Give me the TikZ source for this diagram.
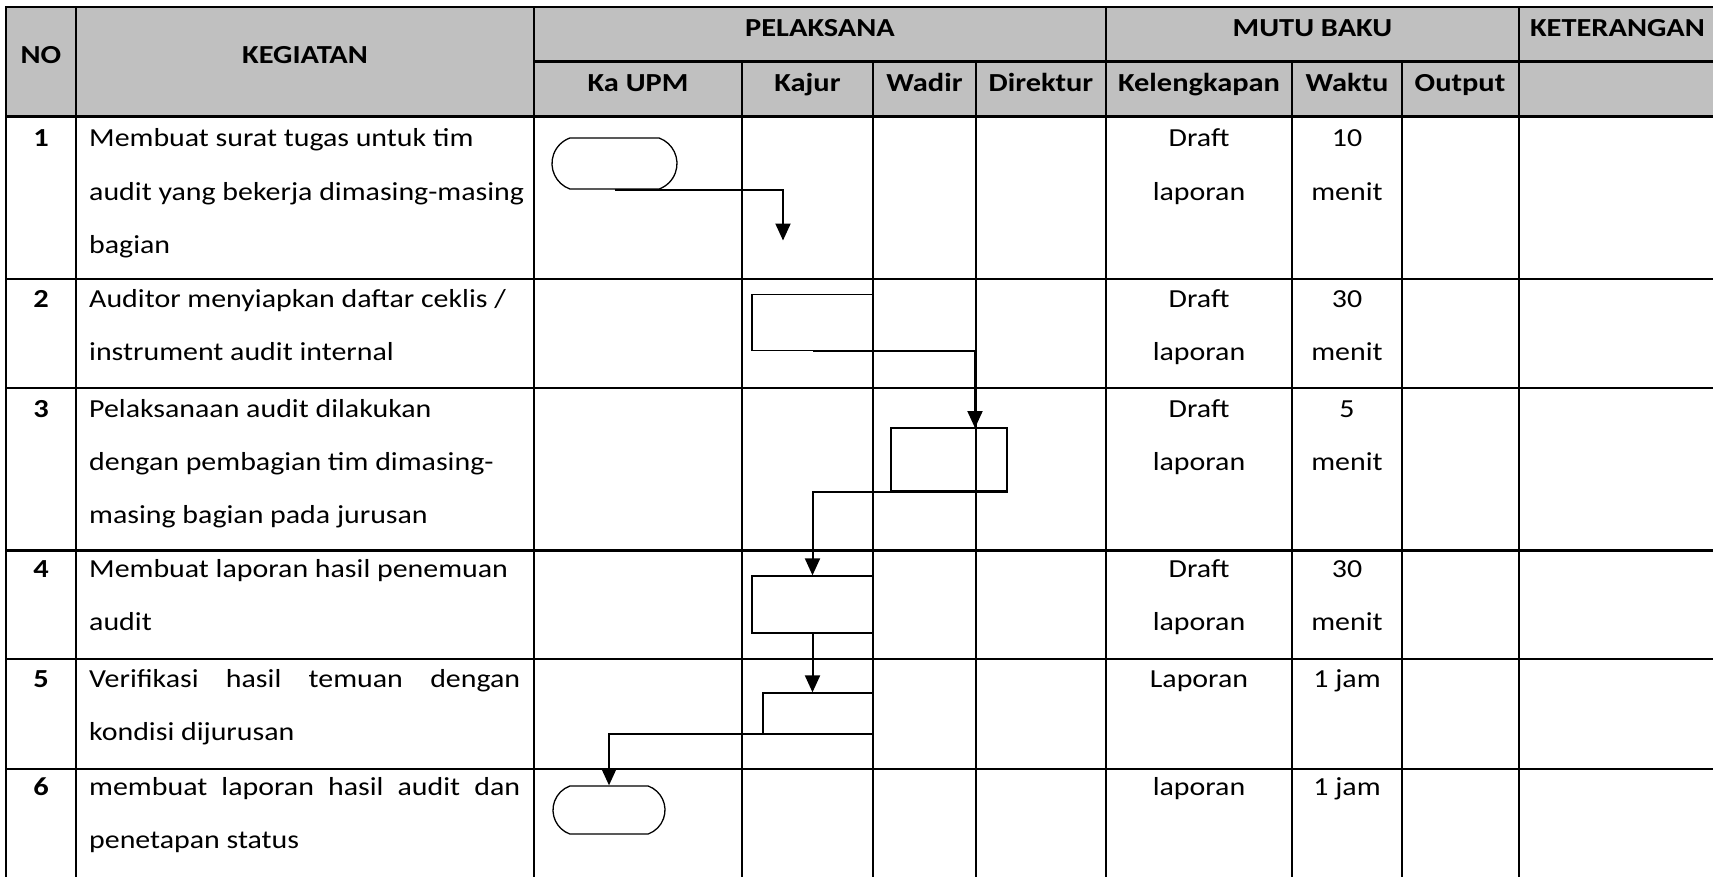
\documentclass[tikz,border=0pt]{standalone}
\usepackage{fontspec}
\setmainfont{Carlito}[FakeStretch=1.15, BoldFeatures={FakeStretch=1.17}]
\usetikzlibrary{arrows.meta,shapes.misc}
\definecolor{hdrgray}{RGB}{192,192,192}
\begin{document}
\begin{tikzpicture}[x=1pt,y=-1pt,
  font=\fontsize{26}{30}\selectfont,
  tline/.style={line width=2.3pt, line cap=rect},
  txt/.style={anchor=base west, inner sep=0pt},
  ctr/.style={anchor=base, inner sep=0pt},
  hd/.style={anchor=base, inner sep=0pt, font=\fontsize{26}{30}\selectfont\bfseries},
  proc/.style={draw, line width=1.3pt, rectangle, inner sep=0pt},
  term/.style={draw, line width=1.3pt, rounded rectangle, rounded rectangle arc length=140, inner sep=0pt},
  conn/.style={line width=2pt, -{Triangle[length=17pt,width=15pt]}}]
\useasboundingbox (0,0) rectangle (1713,876);
\clip (0,0) rectangle (1713,876);
% header fill
\fill[hdrgray] (6,7) rectangle (1716,116.5);
% horizontal lines
\foreach \y in {7,116.5,279,388,550.5,659,769,879} \draw[tline] (6,\y) -- (1716,\y);
\draw[tline] (534,61.5) -- (1716,61.5);
% vertical lines
\foreach \x in {6,76,534,1106,1519,1716} \draw[tline] (\x,7) -- (\x,879);
\foreach \x in {742,873,976,1292,1402} \draw[tline] (\x,61.5) -- (\x,879);
% header texts
\node[hd] (hNO) at (41,63) {NO};
\node[hd] (hKEG) at (305,63) {KEGIATAN};
\node[hd] (hPEL) at (820,36) {PELAKSANA};
\node[hd] (hMUTU) at (1312.5,36) {MUTU BAKU};
\node[hd] (hKET) at (1617.5,36) {KETERANGAN};
\node[hd] (hKa) at (638,91) {Ka UPM};
\node[hd] (hKaj) at (807.5,91) {Kajur};
\node[hd] (hWad) at (924.5,91) {Wadir};
\node[hd] (hDir) at (1041,91) {Direktur};
\node[hd] (hKel) at (1199,91) {Kelengkapan};
\node[hd] (hWak) at (1347,91) {Waktu};
\node[hd] (hOut) at (1460,91) {Output};
% numbers
\node[hd] (n1) at (41,146.5) {1};
\node[hd] (n2) at (41,307) {2};
\node[hd] (n3) at (41,417) {3};
\node[hd] (n4) at (41,577) {4};
\node[hd] (n5) at (41,687) {5};
\node[hd] (n6) at (41,795) {6};
% kegiatan texts
\node[txt] (k1a) at (89,146.5) {Membuat surat tugas untuk tim};
\node[txt] (k1b) at (89,200) {audit yang bekerja dimasing-masing};
\node[txt] (k1c) at (89,253.5) {bagian};
\node[txt] (k2a) at (89,307) {Auditor menyiapkan daftar ceklis /};
\node[txt] (k2b) at (89,360) {instrument audit internal};
\node[txt] (k3a) at (89,417) {Pelaksanaan audit dilakukan};
\node[txt] (k3b) at (89,470) {dengan pembagian tim dimasing-};
\node[txt] (k3c) at (89,523) {masing bagian pada jurusan};
\node[txt] (k4a) at (89,577) {Membuat laporan hasil penemuan};
\node[txt] (k4b) at (89,630) {audit};
\node[txt] (k5a) at (89,687) {\makebox[431pt][s]{Verifikasi hasil temuan dengan}};
\node[txt] (k5b) at (89,740.5) {kondisi dijurusan};
\node[txt] (k6a) at (89,795) {\makebox[431pt][s]{membuat laporan hasil audit dan}};
\node[txt] (k6b) at (89,848) {penetapan status};
% mutu baku
\node[ctr] (m1a) at (1199,146.5) {Draft};
\node[ctr] (m1b) at (1199,200) {laporan};
\node[ctr] (w1a) at (1347,146.5) {10};
\node[ctr] (w1b) at (1347,200) {menit};
\node[ctr] (m2a) at (1199,307) {Draft};
\node[ctr] (m2b) at (1199,360) {laporan};
\node[ctr] (w2a) at (1347,307) {30};
\node[ctr] (w2b) at (1347,360) {menit};
\node[ctr] (m3a) at (1199,417) {Draft};
\node[ctr] (m3b) at (1199,470) {laporan};
\node[ctr] (w3a) at (1347,417) {5};
\node[ctr] (w3b) at (1347,470) {menit};
\node[ctr] (m4a) at (1199,577) {Draft};
\node[ctr] (m4b) at (1199,630) {laporan};
\node[ctr] (w4a) at (1347,577) {30};
\node[ctr] (w4b) at (1347,630) {menit};
\node[ctr] (m5a) at (1199,687) {Laporan};
\node[ctr] (w5a) at (1347,687) {1 jam};
\node[ctr] (m6a) at (1199,795) {laporan};
\node[ctr] (w6a) at (1347,795) {1 jam};
% flow shapes
\node[term, minimum width=125pt, minimum height=51pt] (T1) at (614.5,163.5) {};
\node[proc, minimum width=121.5pt, minimum height=56pt] (R2) at (812.75,322.5) {};
\node[proc, minimum width=116pt, minimum height=63pt] (R3) at (949,459.5) {};
\node[proc, minimum width=121pt, minimum height=57pt] (R4) at (812.5,604.5) {};
\node[proc, minimum width=110pt, minimum height=41pt] (R5) at (818,713.5) {};
\node[term, minimum width=112pt, minimum height=48pt] (T6) at (609,810) {};
% connector end points
\coordinate (e1) at (783,240.5);
\coordinate (e2) at (975,428);
\coordinate (s5) at (786,734);
% connectors
\draw[conn] (T1.south) -| (e1);
\draw[conn] (R2.south) -| (e2);
\draw[conn] (R3.south east) -| (R4.north);
\draw[conn] (R4.south) -- (R4.south |- R5.north);
\draw[conn] (s5) -| (T6.north);
\end{tikzpicture}
\end{document}
